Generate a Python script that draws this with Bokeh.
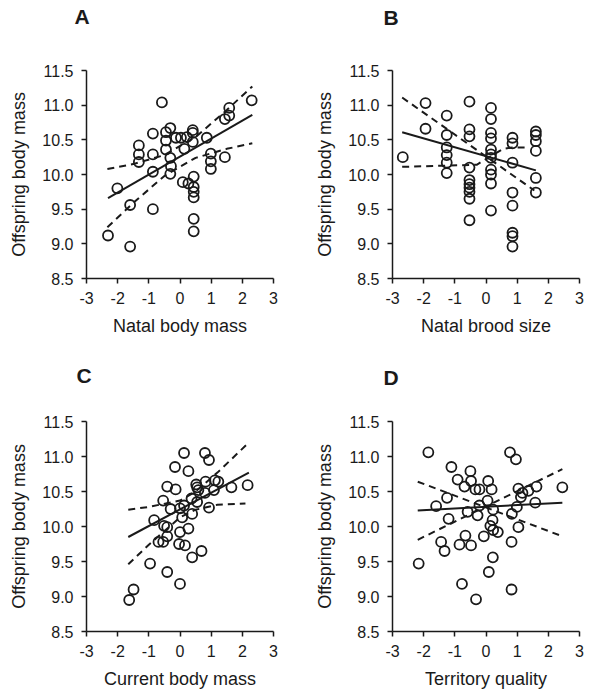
from bokeh.plotting import figure
from bokeh.layouts import column, row
from bokeh.models import FixedTicker, Title
from bokeh.embed import file_html
from bokeh.resources import INLINE

# ---------------- data ----------------
X_TICKS = [-3, -2, -1, 0, 1, 2, 3]
X_TICK_LABELS = ["-3", "-2", "-1", "0", "1", "2", "3"]
Y_TICKS = [8.5, 9.0, 9.5, 10.0, 10.5, 11.0, 11.5]
Y_TICK_LABELS = ["8.5", "9.0", "9.5", "10.0", "10.5", "11.0", "11.5"]
Y_TITLE = "Offspring body mass"

# Panel A: Natal body mass
a_x = [-2.31, -1.60, -1.60, -2.01, -1.32, -1.32, -1.32, -0.87, -0.87, -0.87, -0.87,
       -0.58, -0.45, -0.45, -0.45, -0.31, -0.31, -0.29, -0.31, -0.13, 0.03, 0.14,
       0.22, 0.09, 0.27, 0.41, 0.41, 0.41, 0.44, 0.44, 0.44, 0.44, 0.44, 0.44,
       0.86, 0.99, 0.99, 0.99, 1.44, 1.44, 1.58, 1.58, 2.30]
a_y = [9.12, 8.96, 9.56, 9.80, 10.42, 10.29, 10.18, 10.59, 10.29, 10.04, 9.50,
       11.04, 10.61, 10.49, 10.36, 10.67, 10.24, 10.12, 10.01, 10.53, 10.53, 10.37,
       10.54, 9.89, 9.87, 10.64, 10.60, 10.47, 9.97, 9.82, 9.75, 9.67, 9.36, 9.18,
       10.53, 10.30, 10.19, 10.08, 10.25, 10.80, 10.85, 10.96, 11.07]
a_fit_x = [-2.31, 2.32]
a_fit_y = [9.66, 10.86]
a_ci1_x = [-2.33, -1.5, -0.5, 0.5, 1.5, 2.32]
a_ci1_y = [10.08, 10.15, 10.28, 10.54, 10.93, 11.27]
a_ci2_x = [-2.33, -1.5, -0.5, 0.5, 1.5, 2.32]
a_ci2_y = [9.24, 9.59, 9.98, 10.24, 10.37, 10.45]

# Panel B: Natal brood size
b_x = [-2.67, -1.94, -1.94, -1.26, -1.26, -1.26, -1.26, -1.26, -1.26,
       -0.53, -0.53, -0.53, -0.53, -0.53, -0.53, -0.53, -0.53, -0.53, -0.53,
       0.16, 0.16, 0.16, 0.16, 0.16, 0.16, 0.16, 0.16, 0.16, 0.16, 0.16,
       0.85, 0.85, 0.85, 0.85, 0.85, 0.85, 0.85, 0.85,
       1.60, 1.60, 1.60, 1.60, 1.60, 1.60]
b_y = [10.25, 11.03, 10.66, 10.85, 10.57, 10.39, 10.28, 10.17, 10.02,
       11.05, 10.65, 10.55, 10.10, 9.92, 9.86, 9.81, 9.75, 9.65, 9.34,
       10.96, 10.80, 10.60, 10.52, 10.36, 10.29, 10.24, 10.07, 10.00, 9.87, 9.48,
       10.53, 10.45, 10.17, 9.74, 9.55, 9.16, 9.11, 8.96,
       10.62, 10.57, 10.48, 10.34, 9.95, 9.74]
b_fit_x = [-2.69, 1.60]
b_fit_y = [10.61, 10.06]
b_ci1_x = [-2.69, 1.55]
b_ci1_y = [11.11, 9.77]
b_ci2_x = [-2.69, -0.3, 0.55, 0.85, 1.25]
b_ci2_y = [10.11, 10.14, 10.37, 10.39, 10.39]

# Panel C: Current body mass
c_x = [-1.63, -1.49, -0.96, -0.41, 0.00, -0.83, -0.69, -0.54, -0.41, -0.41,
       -0.51, -0.54, -0.41, -0.14, -0.16, 0.13, 0.27, 0.80, 0.93, -0.30,
       0.00, 0.13, 0.07, 0.27, 0.00, -0.03, 0.16, 0.39, 0.69, 0.39,
       0.55, 0.37, 0.55, 0.52, 0.59, 0.82, 0.93, 1.09, 1.12, 1.23,
       1.65, 2.17, 0.80]
c_y = [8.95, 9.10, 9.47, 9.35, 9.18, 10.09, 9.78, 9.78, 9.86, 9.99,
       10.01, 10.37, 10.57, 10.53, 10.85, 11.05, 10.79, 11.05, 10.95, 10.25,
       10.26, 10.30, 10.13, 9.97, 9.92, 9.75, 9.73, 9.56, 9.65, 10.18,
       10.35, 10.40, 10.56, 10.60, 10.52, 10.64, 10.27, 10.52, 10.66, 10.64,
       10.56, 10.59, 10.48]
c_fit_x = [-1.66, 2.21]
c_fit_y = [9.85, 10.77]
c_ci1_x = [-1.66, -1.0, 0.0, 0.5, 1.2, 2.21]
c_ci1_y = [10.24, 10.28, 10.37, 10.50, 10.77, 11.20]
c_ci2_x = [-1.66, -1.0, 0.0, 0.5, 1.2, 2.10]
c_ci2_y = [9.46, 9.74, 10.13, 10.24, 10.31, 10.33]

# Panel D: Territory quality
d_x = [-2.16, -1.85, -1.60, -1.44, -1.33, -1.25, -1.20, -1.11, -0.91, -0.85,
       -0.77, -0.69, -0.66, -0.59, -0.50, -0.48, -0.48, -0.34, -0.32, -0.27,
       -0.21, -0.21, -0.07, 0.07, 0.05, 0.18, 0.23, 0.21, 0.14, 0.23,
       0.38, 0.22, 0.09, 0.77, 0.96, 0.83, 0.82, 0.82, 0.99, 1.04,
       1.04, 1.12, 1.17, 1.36, 1.62, 1.58, 2.45]
d_y = [9.47, 11.06, 10.29, 9.78, 9.65, 10.41, 10.11, 10.85, 10.67, 9.74,
       9.18, 10.57, 9.87, 10.21, 10.79, 10.65, 9.73, 10.53, 8.96, 10.16,
       10.53, 10.30, 9.86, 10.65, 10.37, 10.53, 10.24, 10.09, 10.01, 9.95,
       9.92, 9.56, 9.35, 11.06, 10.96, 10.18, 9.78, 9.10, 10.28, 9.99,
       10.54, 10.42, 10.48, 10.51, 10.57, 10.34, 10.56]
d_fit_x = [-2.19, 2.45]
d_fit_y = [10.23, 10.34]
d_ci1_x = [-2.19, 2.45]
d_ci1_y = [10.64, 9.86]
d_ci2_x = [-2.19, 2.45]
d_ci2_y = [9.81, 10.82]

# ---------------- styling ----------------
FONT = "Liberation Sans"
INK = "#1a1a1a"


def make_panel(letter, xlabel, xs, ys, fx, fy, c1x, c1y, c2x, c2y,
               width, height, bl, br, bt, bb, gap, letter_offset):
    p = figure(width=width, height=height, x_range=(-3, 3), y_range=(8.5, 11.5),
               output_backend="svg", toolbar_location=None, title=None,
               min_border_left=bl, min_border_right=br,
               min_border_top=bt, min_border_bottom=bb)
    p.outline_line_color = None
    p.xgrid.visible = False
    p.ygrid.visible = False
    p.background_fill_color = "white"

    # spacer (closest to the frame) then the panel letter above it
    p.add_layout(Title(text=" ", text_font_size="10px", standoff=gap,
                       text_color="white"), "above")
    p.add_layout(Title(text=letter, align="left", offset=letter_offset,
                       standoff=0, text_font=FONT,
                       text_font_size="21px", text_font_style="bold",
                       text_color=INK), "above")

    p.scatter(xs, ys, marker="circle", size=10, fill_alpha=0,
              line_color=INK, line_width=1.8)
    p.line(fx, fy, line_color=INK, line_width=2)
    p.line(c1x, c1y, line_color=INK, line_width=2, line_dash="7 5")
    p.line(c2x, c2y, line_color=INK, line_width=2, line_dash="7 5")

    p.xaxis.ticker = FixedTicker(ticks=X_TICKS)
    p.xaxis.major_label_overrides = {t: s for t, s in zip(X_TICKS, X_TICK_LABELS)}
    p.yaxis.ticker = FixedTicker(ticks=Y_TICKS)
    p.yaxis.major_label_overrides = {t: s for t, s in zip(Y_TICKS, Y_TICK_LABELS)}
    p.xaxis.axis_label = xlabel
    p.yaxis.axis_label = Y_TITLE

    for ax in (p.xaxis[0], p.yaxis[0]):
        ax.axis_line_color = INK
        ax.axis_line_width = 1.5
        ax.major_tick_line_color = INK
        ax.major_tick_line_width = 1.5
        ax.major_tick_out = 5
        ax.major_tick_in = 0
        ax.minor_tick_out = 0
        ax.minor_tick_in = 0
        ax.major_label_text_font = FONT
        ax.major_label_text_font_size = "16px"
        ax.major_label_text_color = INK
        ax.axis_label_text_font = FONT
        ax.axis_label_text_font_size = "18px"
        ax.axis_label_text_font_style = "normal"
        ax.axis_label_text_color = INK
    p.xaxis.major_label_standoff = 8
    p.xaxis.axis_label_standoff = 9
    p.yaxis.major_label_standoff = 8
    p.yaxis.axis_label_standoff = 10
    return p


pA = make_panel("A", "Natal body mass", a_x, a_y, a_fit_x, a_fit_y,
                a_ci1_x, a_ci1_y, a_ci2_x, a_ci2_y,
                293, 338, 86, 20, 70, 60, 30, -12)
pB = make_panel("B", "Natal brood size", b_x, b_y, b_fit_x, b_fit_y,
                b_ci1_x, b_ci1_y, b_ci2_x, b_ci2_y,
                298, 338, 99, 12, 70, 60, 29, -9)
pC = make_panel("C", "Current body mass", c_x, c_y, c_fit_x, c_fit_y,
                c_ci1_x, c_ci1_y, c_ci2_x, c_ci2_y,
                293, 359, 86, 20, 83, 66, 22, -10)
pD = make_panel("D", "Territory quality", d_x, d_y, d_fit_x, d_fit_y,
                d_ci1_x, d_ci1_y, d_ci2_x, d_ci2_y,
                298, 359, 99, 12, 83, 66, 20, -9)

layout = column(row(pA, pB), row(pC, pD))

open("out.html", "w").write(file_html(layout, INLINE))
